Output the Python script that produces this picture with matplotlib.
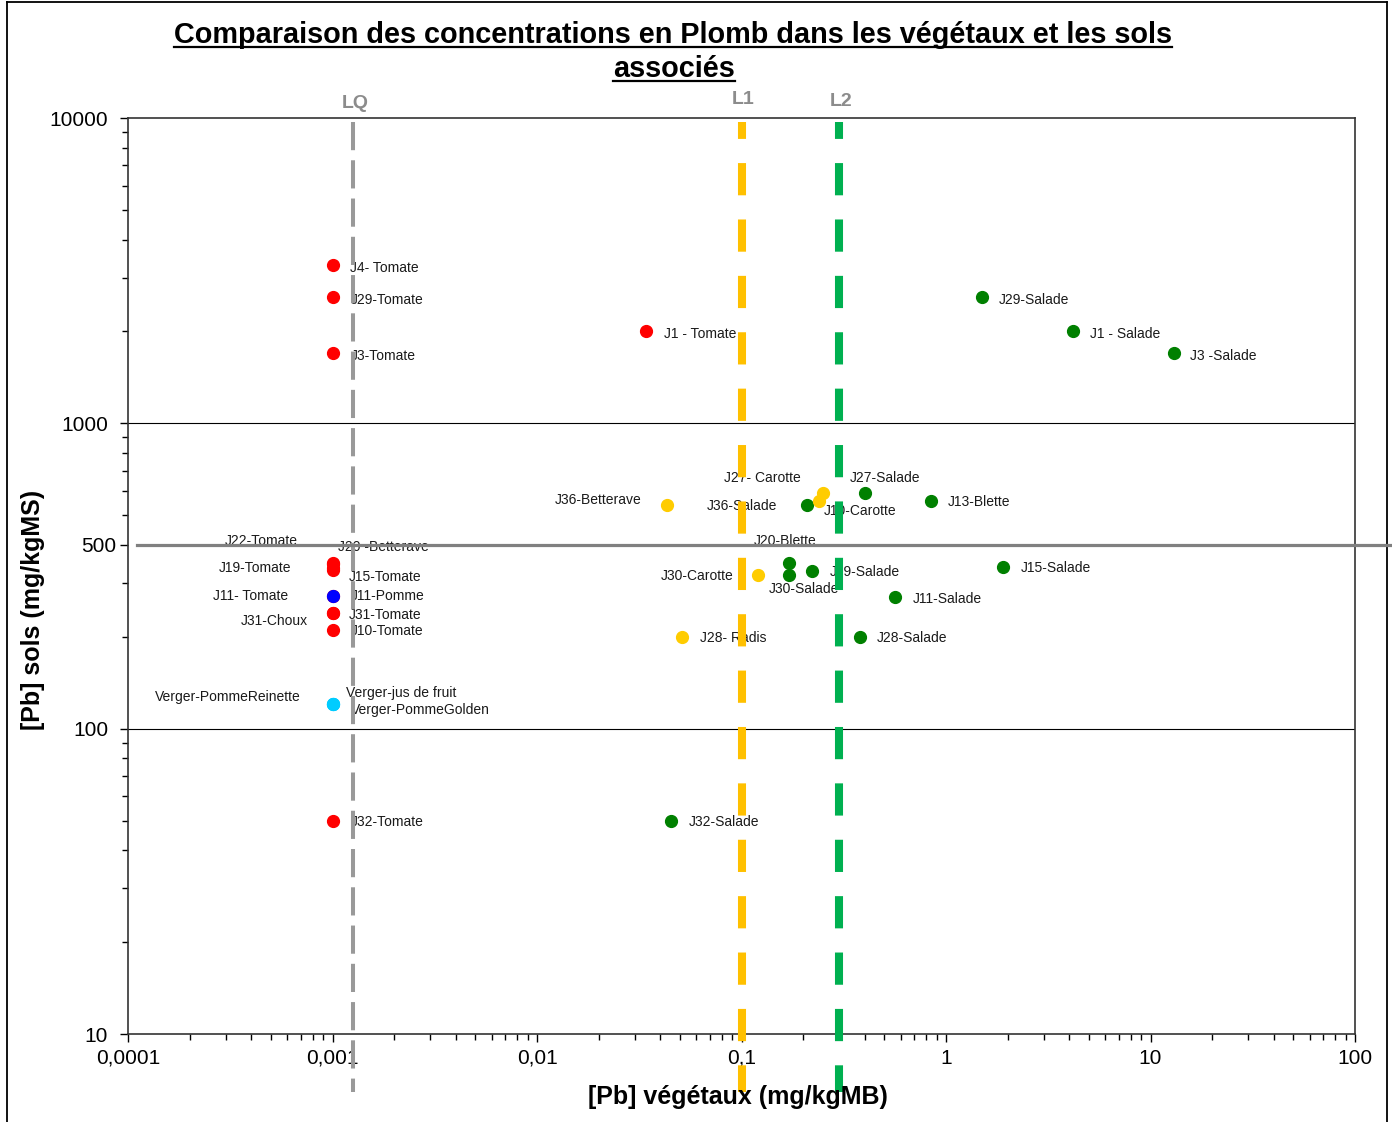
import matplotlib
matplotlib.use("Agg")
import matplotlib.pyplot as plt
from matplotlib.lines import Line2D
from matplotlib.ticker import FixedLocator, FixedFormatter, LogLocator, NullFormatter
import matplotlib.transforms as mtransforms

plt.rcParams['font.family'] = ['Liberation Sans', 'DejaVu Sans']

# --- data ---
red_names = ["J4- Tomate", "J29-Tomate", "J3-Tomate", "J1 - Tomate", "J22-Tomate",
             "J20 -Betterave", "J19-Tomate", "J15-Tomate", "J11- Tomate", "J31-Tomate",
             "J31-Choux", "J10-Tomate", "J32-Tomate"]
red_x = [0.001, 0.001, 0.001, 0.034, 0.001, 0.001, 0.001, 0.001, 0.001, 0.001, 0.001, 0.001, 0.001]
red_y = [3300, 2600, 1700, 2000, 350, 345, 335, 330, 272, 240, 240, 210, 50]

blue_names = ["J11-Pomme"]
blue_x = [0.001]
blue_y = [272]

cyan_names = ["Verger-PommeReinette", "Verger-jus de fruit", "Verger-PommeGolden"]
cyan_x = [0.001, 0.001, 0.001]
cyan_y = [120, 120, 120]

green_names = ["J29-Salade", "J1 - Salade", "J3 -Salade", "J27-Salade", "J13-Blette",
               "J36-Salade", "J20-Blette", "J30-Salade", "J19-Salade", "J15-Salade",
               "J11-Salade", "J28-Salade", "J32-Salade"]
green_x = [1.5, 4.2, 13.0, 0.40, 0.84, 0.21, 0.17, 0.17, 0.22, 1.9, 0.56, 0.38, 0.045]
green_y = [2600, 2000, 1700, 590, 557, 540, 349, 318, 328, 338, 270, 200, 50]

yellow_names = ["J36-Betterave", "J27- Carotte", "J10-Carotte", "J30-Carotte", "J28- Radis"]
yellow_x = [0.043, 0.25, 0.24, 0.12, 0.051]
yellow_y = [540, 590, 557, 318, 200]

LQ = 0.00126
L1 = 0.1
L2 = 0.3
ref_level = 400
ref_label = "500"

x_ticks = [0.0001, 0.001, 0.01, 0.1, 1, 10, 100]
x_ticklabels = ["0,0001", "0,001", "0,01", "0,1", "1", "10", "100"]
y_ticks = [10, 100, ref_level, 1000, 10000]
y_ticklabels = ["10", "100", ref_label, "1000", "10000"]

# label offsets in pixels (dx, dy) and alignment
red_off = [(18, -3, 'left'), (18, -3, 'left'), (18, -3, 'left'), (18, -3, 'left'),
           (-35, 22, 'right'), (6, 17, 'left'), (-41, 0, 'right'), (16, -7, 'left'),
           (-44, 0, 'right'), (16, -2, 'left'), (-25, -8, 'right'), (18, -1, 'left'),
           (18, -1, 'left')]
blue_off = [(18, 0, 'left')]
cyan_off = [(-32, 7, 'right'), (13, 11, 'left'), (18, -6, 'left')]
green_off = [(17, -3, 'left'), (17, -3, 'left'), (16, -3, 'left'), (-15, 15, 'left'),
             (17, -1, 'left'), (-30, -1, 'right'), (-35, 22, 'left'), (-20, -14, 'left'),
             (18, -1, 'left'), (18, -1, 'left'), (18, -2, 'left'), (17, -1, 'left'),
             (18, -1, 'left')]
yellow_off = [(-25, 5, 'right'), (-22, 15, 'right'), (5, -10, 'left'), (-24, -1, 'right'),
              (18, -1, 'left')]

W, H = 1392, 1122
fig = plt.figure(figsize=(W / 100, H / 100), dpi=100)
ax = fig.add_axes([128 / W, 1 - 1034 / H, (1355 - 128) / W, (1034 - 118) / H])
ax.set_xscale('log')
ax.set_yscale('log')
ax.set_xlim(0.0001, 100)
ax.set_ylim(10, 10000)

series = [
    (red_names, red_x, red_y, red_off, '#ff0000'),
    (green_names, green_x, green_y, green_off, '#008000'),
    (yellow_names, yellow_x, yellow_y, yellow_off, '#ffcc00'),
    (blue_names, blue_x, blue_y, blue_off, '#0000ff'),
    (cyan_names, cyan_x, cyan_y, cyan_off, '#00ccff'),
]
for names, xs, ys, offs, col in series:
    ax.plot(xs, ys, 'o', color=col, ms=8.5, mec=col, zorder=5, clip_on=False)
    for n, x, y, (dx, dy, ha) in zip(names, xs, ys, offs):
        ax.annotate(n, (x, y), xytext=(dx, dy), textcoords='offset pixels',
                    ha=ha, va='center', fontsize=10, color='#1a1a1a', zorder=3)

# grid at decades
for g in [100, 1000]:
    ax.axhline(g, color='black', lw=0.8, zorder=1)

# threshold lines (extend past the axes)
trans = mtransforms.blended_transform_factory(ax.transData, ax.transAxes)
top, bot = 1 - 4 / 916, -58 / 916
ax.plot([LQ, LQ], [top, bot], transform=trans, color='#999999', lw=2.9,
        ls=(0, (7, 2.5)), clip_on=False, zorder=6)
ax.plot([L1, L1], [top, bot], transform=trans, color='#ffc000', lw=5.8,
        ls=(1.9, (4, 3)), clip_on=False, zorder=6)
ax.plot([L2, L2], [top, bot], transform=trans, color='#00b050', lw=5.8,
        ls=(1.9, (4, 3)), clip_on=False, zorder=6)
for xv, lab, dy in [(LQ, "LQ", 103), (L1, "L1", 100), (L2, "L2", 101)]:
    xp = ax.transData.transform((xv, 10))[0]
    fig.text(xp / W + 2 / W, 1 - dy / H, lab, ha='center', va='center', fontsize=14,
             fontweight='bold', color='#8c8c8c')

# horizontal grey reference line
htrans = mtransforms.blended_transform_factory(fig.transFigure, ax.transData)
fig.add_artist(Line2D([137 / W, 1.0], [ref_level, ref_level], transform=htrans,
                      color='#808080', lw=2.3, zorder=7))

# ticks
ax.xaxis.set_major_locator(FixedLocator(x_ticks))
ax.xaxis.set_major_formatter(FixedFormatter(x_ticklabels))
ax.xaxis.set_minor_locator(LogLocator(base=10, subs=range(2, 10), numticks=20))
ax.xaxis.set_minor_formatter(NullFormatter())
ax.yaxis.set_major_locator(FixedLocator(y_ticks))
ax.yaxis.set_major_formatter(FixedFormatter(y_ticklabels))
ax.yaxis.set_minor_locator(LogLocator(base=10, subs=range(2, 10), numticks=20))
ax.yaxis.set_minor_formatter(NullFormatter())
ax.tick_params(which='major', direction='out', length=5.5, width=1, labelsize=15, pad=5)
ax.tick_params(which='minor', direction='out', length=4, width=1)
ax.tick_params(axis='y', which='major', length=5.8, pad=8.5)
for sp in ax.spines.values():
    sp.set_linewidth(1.2)
    sp.set_color('#333333')

fig.canvas.draw()
for t in ax.get_yticklabels():
    if t.get_text() == ref_label:
        t.set_transform(t.get_transform() + mtransforms.ScaledTranslation(8 / 100, 0, fig.dpi_scale_trans))

# axis titles
fig.text(738 / W, 1 - 1097 / H, "[Pb] végétaux (mg/kgMB)", ha='center', va='center',
         fontsize=18, fontweight='bold')
fig.text(33 / W, 1 - 610 / H, "[Pb] sols (mg/kgMS)", ha='center', va='center',
         fontsize=18, fontweight='bold', rotation=90)

# title with underline
t1 = fig.text(673 / W, 1 - 35 / H, "Comparaison des concentrations en Plomb dans les végétaux et les sols",
              ha='center', va='center', fontsize=20.8, fontweight='bold')
t2 = fig.text(674 / W, 1 - 69 / H, "associés", ha='center', va='center',
              fontsize=20.8, fontweight='bold')
fig.canvas.draw()
r = fig.canvas.get_renderer()
for t, uy in [(t1, 47), (t2, 81)]:
    bb = t.get_window_extent(r)
    fig.add_artist(Line2D([bb.x0 / W, bb.x1 / W], [1 - uy / H, 1 - uy / H],
                          transform=fig.transFigure, color='black', lw=1.6))

# outer frame
for xs_, ys_ in [([7 / W, 7 / W], [0, 1 - 2 / H]), ([7 / W, 1387 / W], [1 - 2 / H, 1 - 2 / H]),
                 ([1387 / W, 1387 / W], [1 - 2 / H, 0])]:
    fig.add_artist(Line2D(xs_, ys_, transform=fig.transFigure, color='black', lw=1.3))

fig.savefig("out.png", dpi=100)
